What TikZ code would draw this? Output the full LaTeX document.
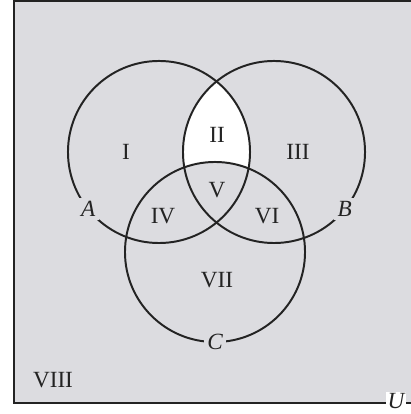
\documentclass[tikz,border=0pt]{standalone}
\usepackage{fontspec}
\setmainfont{Liberation Serif}
\usepackage{xcolor}
\usepackage{tikz}
\usetikzlibrary{shapes,positioning,calc,backgrounds}
\definecolor{panel}{RGB}{220,220,224}
\definecolor{ink}{RGB}{35,35,35}

\begin{document}
\begin{tikzpicture}[x=0.025cm, y=0.025cm]
    % Styles
    \tikzstyle{set} = [circle, draw=ink, line width=1.4pt, minimum size=4.55cm, inner sep=0pt, outer sep=0pt]
    \tikzstyle{region} = [font=\fontsize{16.5}{19}\selectfont, text=ink]
    \tikzstyle{setname} = [font=\fontsize{16.5}{19}\selectfont\itshape, fill=panel, inner sep=2.5pt, text=ink]
    \useasboundingbox (0,0) rectangle (411,414);

    % Nodes
    \node [set] (A) at (159,262) {};
    \node [set] (B) at (274,262) {};
    \node [set, minimum size=4.5cm] (C) at (215,162) {};
    \node [setname] (nameA) at (A.219) {A};
    \node [setname] (nameB) at (B.321) {B};
    \node [setname] (nameC) at (C.270) {C};
    \node [region] (r1) at (126,262) {I};
    \node [region] (r2) at (217,279) {II};
    \node [region] (r3) at (298,262) {III};
    \node [region] (r4) at (163,198) {IV};
    \node [region] (r5) at (217,224) {V};
    \node [region] (r6) at (267,198) {VI};
    \node [region] (r7) at (217,134) {VII};
    \node [region] (r8) at (53,34) {VIII};

    % Universe and shading
    \begin{scope}[on background layer]
        \draw [fill=panel, draw=ink, line width=1.3pt] (14,11) rectangle (440,413);
        \begin{scope}
            \clip (A.center) circle (91);
            \fill [white] (B.center) circle (91);
        \end{scope}
        \fill [panel] (C.center) circle (90);
    \end{scope}
    \node [setname, fill=white, inner sep=1pt] (U) at (396,13) {U};
\end{tikzpicture}
\end{document}
